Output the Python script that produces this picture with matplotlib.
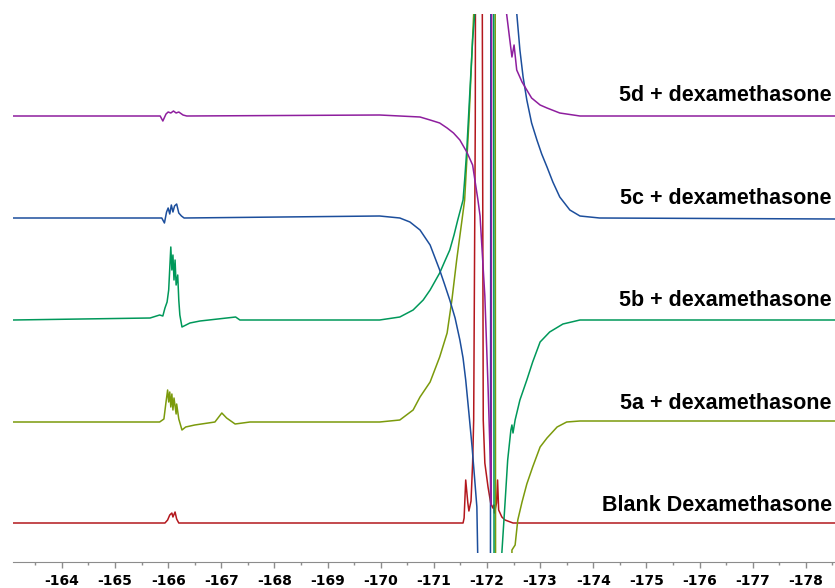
"""
19F NMR stack: dexamethasone alone and with 5a-5d
"""
import matplotlib.pyplot as plt
from matplotlib.ticker import MultipleLocator

# ---- data (ppm, intensity above each trace's own baseline) ----
labels = ["Blank Dexamethasone", "5a + dexamethasone", "5b + dexamethasone",
          "5c + dexamethasone", "5d + dexamethasone"]
colors = ["#b3171d", "#7b9a0c", "#00985a", "#1c4e9c", "#8e1e9e"]

blank_ppm = [-163.08, -165.94, -165.99, -166.03, -166.07, -166.09, -166.13,
             -166.16, -166.20, -171.55, -171.57, -171.60, -171.64, -171.66,
             -171.70, -171.73, -171.75, -171.78, -171.79, -171.90, -171.93,
             -171.96, -172.02, -172.07, -172.11, -172.13, -172.14, -172.18,
             -172.20, -172.22, -172.28, -172.34, -172.49, -178.55]
blank_int = [0, 0, 3, 8, 10, 6, 11, 4, 0, 0, 5, 43, 20, 12, 22, 60, 103, 400,
             800, 800, 103, 60, 36, 20, 15, 18, 10, 20, 43, 13, 6, 3, 0, 0]

a5_ppm = [-163.08, -165.84, -165.92, -165.96, -165.99, -166.01, -166.03,
          -166.05, -166.07, -166.09, -166.11, -166.15, -166.16, -166.20,
          -166.26, -166.33, -166.50, -166.88, -167.01, -167.10, -167.26,
          -167.54, -169.98, -170.36, -170.61, -170.74, -170.93, -171.11,
          -171.25, -171.34, -171.43, -171.53, -171.58, -171.66, -171.75,
          -171.90, -172.15, -172.17, -172.44, -172.47, -172.53, -172.58,
          -172.66, -172.75, -172.86, -173.00, -173.13, -173.32, -173.50,
          -173.75, -178.55]
a5_int = [0, 0, 3, 20, 32, 20, 30, 15, 28, 12, 24, 8, 18, 3, -8, -5, -3, 0,
          9, 4, -2, 0, 0, 2, 12, 25, 40, 65, 89, 122, 162, 202, 222, 300, 408,
          800, 800, -800, -800, -128, -123, -98, -80, -62, -45, -25, -16, -5,
          0, 1, 1]

b5_ppm = [-163.08, -165.66, -165.84, -165.90, -165.94, -165.98, -166.01,
          -166.05, -166.07, -166.09, -166.11, -166.13, -166.15, -166.18,
          -166.20, -166.22, -166.26, -166.41, -166.60, -167.27, -167.35,
          -169.98, -170.36, -170.61, -170.80, -170.93, -171.11, -171.20,
          -171.30, -171.38, -171.45, -171.50, -171.55, -171.58, -171.62,
          -171.66, -171.70, -171.73, -171.77, -171.90, -172.12, -172.14,
          -172.26, -172.28, -172.34, -172.39, -172.45, -172.47, -172.49,
          -172.53, -172.62, -172.75, -172.86, -173.00, -173.18, -173.43,
          -173.75, -178.55]
b5_int = [0, 2, 5, 4, 12, 18, 30, 73, 50, 65, 40, 60, 35, 45, 20, 5, -7, -3,
          -1, 3, 0, 0, 3, 10, 20, 30, 47, 58, 70, 85, 100, 110, 120, 140, 170,
          210, 250, 280, 306, 800, 800, -800, -800, -233, -183, -140, -110,
          -105, -113, -100, -80, -60, -42, -22, -12, -4, 0, 0]

c5_ppm = [-163.08, -165.88, -165.93, -165.97, -166.00, -166.03, -166.06,
          -166.09, -166.12, -166.16, -166.20, -166.25, -166.30, -169.98,
          -170.36, -170.55, -170.74, -170.93, -171.11, -171.20, -171.30,
          -171.40, -171.49, -171.55, -171.60, -171.66, -171.72, -171.77,
          -171.81, -171.88, -172.06, -172.08, -172.54, -172.56, -172.62,
          -172.68, -172.75, -172.84, -172.94, -173.03, -173.13, -173.24,
          -173.37, -173.56, -173.75, -174.12, -178.55]
c5_int = [0, 0, -5, 6, 10, 4, 13, 6, 12, 14, 5, 2, 0, 2, 0, -4, -12, -27,
          -52, -66, -82, -100, -122, -140, -162, -195, -229, -262, -289, -500,
          -800, 800, 800, 205, 168, 141, 118, 95, 78, 64, 51, 36, 21, 8, 2, 0,
          -1]

d5_ppm = [-163.08, -165.85, -165.90, -165.96, -166.00, -166.05, -166.10,
          -166.15, -166.20, -166.28, -166.35, -169.98, -170.36, -170.74,
          -170.93, -171.11, -171.25, -171.37, -171.49, -171.62, -171.73,
          -171.83, -171.87, -171.96, -172.02, -172.06, -172.08, -172.10,
          -172.30, -172.37, -172.43, -172.47, -172.51, -172.56, -172.66,
          -172.75, -172.84, -173.00, -173.13, -173.37, -173.75, -178.55]
d5_int = [0, 0, -5, 2, 4, 3, 5, 3, 4, 1, 0, 1, 0, -1, -4, -7, -12, -17, -24,
          -36, -49, -84, -100, -180, -270, -340, -389, 800, 800, 102, 76, 59,
          71, 46, 34, 26, 18, 11, 8, 3, 0, 0]

spectra = [(blank_ppm, blank_int), (a5_ppm, a5_int), (b5_ppm, b5_int),
           (c5_ppm, c5_int), (d5_ppm, d5_int)]

# ---- layout (pixel based, figure is 835 x 588) ----
W, H = 835, 588
offsets = [30, 131, 233, 335, 437]          # baseline of each trace
label_base = [511, 409, 306, 204, 101]      # text baselines, px from top

fig = plt.figure(figsize=(W / 100, H / 100), dpi=100)
ax = fig.add_axes([13 / W, (H - 553) / H, (W - 13) / W, (553 - 14) / H])

for (ppm, inten), off, col in zip(spectra, offsets, colors):
    ax.plot(ppm, [off + v for v in inten], color=col, lw=1.1)

ax.set_xlim(-163.08, -178.55)
ax.set_ylim(0, 539)

for side in ["left", "right", "top"]:
    ax.spines[side].set_visible(False)
ax.spines["bottom"].set_position(("outward", 6.5))
ax.spines["bottom"].set_color("#8c8c8c")
ax.yaxis.set_visible(False)
ax.xaxis.set_major_locator(MultipleLocator(1))
ax.xaxis.set_minor_locator(MultipleLocator(0.5))
ax.tick_params(axis="x", which="major", length=4, width=1, color="#8c8c8c",
               pad=4.5, labelsize=10)
ax.tick_params(axis="x", which="minor", length=2.5, width=1, color="#8c8c8c")
for t in ax.get_xticklabels():
    t.set_fontweight("bold")
    t.set_family("DejaVu Sans")
ax.xaxis.set_major_formatter(plt.FuncFormatter(lambda v, p: f"{v:.0f}"))

for lab, yb in zip(labels, label_base):
    fig.text(832 / W, 1 - yb / H, lab, ha="right", va="baseline",
             fontsize=15.5, fontweight="bold", family="Liberation Sans")

plt.savefig("out.png", dpi=100)
